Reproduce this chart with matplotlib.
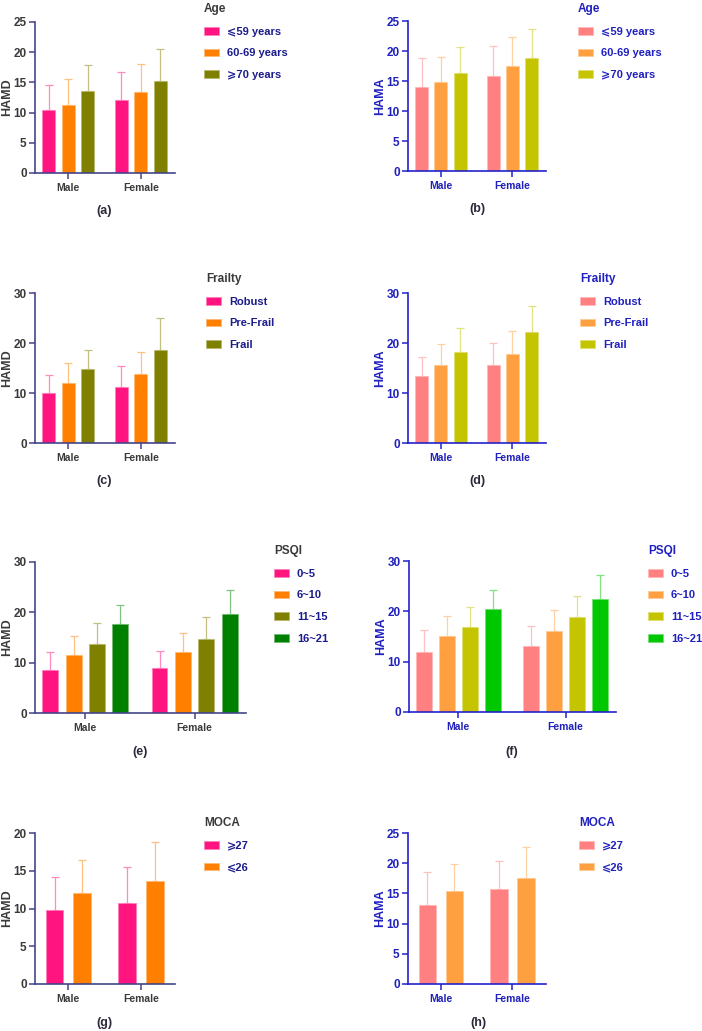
import numpy as np
import matplotlib
matplotlib.use('Agg')
import matplotlib.pyplot as plt
from matplotlib.colors import to_rgb
from matplotlib.patches import Patch

plt.rcParams['font.family'] = ['Liberation Sans', 'DejaVu Sans']
plt.rcParams['font.weight'] = 'bold'
plt.rcParams['axes.labelweight'] = 'bold'

sexes = ['Male', 'Female']

# ---- (a) HAMD by age / (b) HAMA by age
age_groups = ['⩽59 years', '60-69 years', '⩾70 years']
hamd_age_mean = [[10.4, 12.1], [11.3, 13.4], [13.6, 15.3]]
hamd_age_sd = [[4.1, 4.6], [4.2, 4.6], [4.2, 5.3]]
hama_age_mean = [[14.0, 15.9], [14.8, 17.5], [16.3, 18.8]]
hama_age_sd = [[4.9, 5.0], [4.2, 4.8], [4.4, 4.9]]

# ---- (c) HAMD by frailty / (d) HAMA by frailty
frailty_groups = ['Robust', 'Pre-Frail', 'Frail']
hamd_frail_mean = [[10.0, 11.2], [12.1, 13.8], [14.9, 18.7]]
hamd_frail_sd = [[3.7, 4.3], [4.0, 4.4], [3.8, 6.3]]
hama_frail_mean = [[13.5, 15.6], [15.7, 17.9], [18.2, 22.2]]
hama_frail_sd = [[3.8, 4.5], [4.2, 4.6], [4.9, 5.2]]

# ---- (e) HAMD by PSQI / (f) HAMA by PSQI
psqi_groups = ['0~5', '6~10', '11~15', '16~21']
hamd_psqi_mean = [[8.6, 9.0], [11.5, 12.1], [13.8, 14.8], [17.65, 19.6]]
hamd_psqi_sd = [[3.6, 3.4], [3.7, 3.7], [4.0, 4.2], [3.75, 4.9]]
hama_psqi_mean = [[11.9, 13.1], [15.1, 16.1], [16.9, 18.85], [20.4, 22.4]]
hama_psqi_sd = [[4.4, 3.9], [3.9, 4.2], [4.0, 4.15], [3.9, 4.9]]

# ---- (g) HAMD by MOCA / (h) HAMA by MOCA
moca_groups = ['⩾27', '⩽26']
hamd_moca_mean = [[9.75, 10.7], [12.05, 13.7]]
hamd_moca_sd = [[4.45, 4.75], [4.4, 5.1]]
hama_moca_mean = [[13.1, 15.65], [15.4, 17.5]]
hama_moca_sd = [[5.4, 4.65], [4.4, 5.2]]

hamd_colors = ['#FF1480', '#FF8000', '#808000', '#008000']
hama_colors = ['#FF8080', '#FFA040', '#C4C400', '#00C800']

W, H = 702, 1031
fig = plt.figure(figsize=(W / 100, H / 100), dpi=100)


def lighten(c, f=0.5):
    r = np.array(to_rgb(c))
    return tuple(r + (1 - r) * f)


def panel(box, means, sds, names, colors, title, ylabel, ymax, ystep,
          letter, letter_xy, leg_xy, hama):
    x0, y0, x1, y1 = box
    ax = fig.add_axes([x0 / W, 1 - y1 / H, (x1 - x0) / W, (y1 - y0) / H])
    n = len(names)
    if n == 2:
        width, step = 0.245, 0.38
    elif n == 3:
        width, step = 0.18, 0.27
    else:
        width, step = 0.145, 0.214
    spine_col = '#2222CC' if hama else '#44448A'
    tick_col = '#2020BB' if hama else '#3A3A3A'
    text_col = '#2020C0' if hama else '#1C1C8C'
    title_col = '#2020C0' if hama else '#3A3A3A'

    xs = np.arange(len(sexes))
    handles = []
    for i, name in enumerate(names):
        pos = xs + (i - (n - 1) / 2) * step
        col = colors[i]
        ax.bar(pos, means[i], width, color=col, edgecolor=lighten(col, 0.45),
               linewidth=0.6, zorder=2)
        ax.errorbar(pos, means[i], yerr=[np.zeros(len(sexes)), sds[i]],
                    fmt='none', ecolor=lighten(col, 0.5), elinewidth=0.9,
                    capsize=3, capthick=0.9, zorder=1)
        handles.append(Patch(facecolor=col, edgecolor=lighten(col, 0.45), linewidth=0.6))

    ax.set_xlim(-0.46, 1.47)
    ax.set_ylim(0, ymax)
    ax.set_yticks(np.arange(0, ymax + 0.1, ystep))
    ax.set_xticks(xs)
    ax.set_xticklabels(sexes)
    for s in ['top', 'right']:
        ax.spines[s].set_visible(False)
    for s in ['left', 'bottom']:
        ax.spines[s].set_color(spine_col)
        ax.spines[s].set_linewidth(1.2)
    ax.tick_params(axis='y', length=4, width=1.1, color=spine_col,
                   labelcolor=tick_col, labelsize=8.5, pad=2)
    ax.tick_params(axis='x', length=4, width=1.1, color=spine_col,
                   labelcolor=tick_col, labelsize=7.5, pad=3)
    ax.set_ylabel(ylabel, fontsize=9, color=title_col, fontweight='bold')
    ax.yaxis.set_label_coords(-22 / (x1 - x0), 0.5)

    leg = ax.legend(handles, names, title=title, frameon=False,
                    loc='upper left', bbox_to_anchor=(leg_xy[0] / W, 1 - leg_xy[1] / H),
                    bbox_transform=fig.transFigure, fontsize=8, title_fontsize=8.5,
                    handlelength=1.35, handleheight=0.7, handletextpad=0.7,
                    labelspacing=1.05, borderpad=0, borderaxespad=0, alignment='left')
    leg.get_title().set_color(title_col)
    leg.get_title().set_fontweight('bold')
    for t in leg.get_texts():
        t.set_color(text_col)

    fig.text(letter_xy[0] / W, 1 - letter_xy[1] / H, letter, ha='center', va='center',
             fontsize=9, color='#2A2A3A')
    return ax


panel((35, 22, 175, 173), hamd_age_mean, hamd_age_sd, age_groups, hamd_colors,
      'Age', 'HAMD', 25, 5, '(a)', (104, 211), (204, 3), False)
panel((408, 21, 546, 171), hama_age_mean, hama_age_sd, age_groups, hama_colors,
      'Age', 'HAMA', 25, 5, '(b)', (477, 209), (578, 3), True)

panel((35, 293, 175, 443), hamd_frail_mean, hamd_frail_sd, frailty_groups, hamd_colors,
      'Frailty', 'HAMD', 30, 10, '(c)', (104, 481), (206, 273), False)
panel((408, 293, 546, 443), hama_frail_mean, hama_frail_sd, frailty_groups, hama_colors,
      'Frailty', 'HAMA', 30, 10, '(d)', (477, 481), (580, 273), True)

panel((35, 562, 246, 713), hamd_psqi_mean, hamd_psqi_sd, psqi_groups, hamd_colors,
      'PSQI', 'HAMD', 30, 10, '(e)', (140, 752), (274, 545), False)
panel((409, 561, 616, 712), hama_psqi_mean, hama_psqi_sd, psqi_groups, hama_colors,
      'PSQI', 'HAMA', 30, 10, '(f)', (512, 752), (648, 545), True)

panel((35, 833, 175, 984), hamd_moca_mean, hamd_moca_sd, moca_groups, hamd_colors,
      'MOCA', 'HAMD', 20, 5, '(g)', (104, 1023), (204, 817), False)
panel((408, 833, 546, 984), hama_moca_mean, hama_moca_sd, moca_groups, hama_colors,
      'MOCA', 'HAMA', 25, 5, '(h)', (478, 1023), (579, 817), True)

fig.savefig('out.png', dpi=100)
